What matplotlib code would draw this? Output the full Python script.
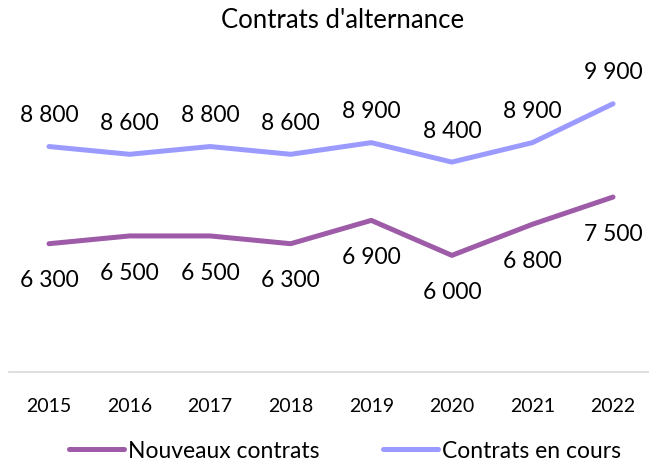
import matplotlib
matplotlib.use("Agg")
import matplotlib.pyplot as plt

plt.rcParams['font.family'] = ['Lato', 'DejaVu Sans']

years = ['2015', '2016', '2017', '2018', '2019', '2020', '2021', '2022']
nouveaux = [6300, 6500, 6500, 6300, 6900, 6000, 6800, 7500]
en_cours = [8800, 8600, 8800, 8600, 8900, 8400, 8900, 9900]

c_nouv = '#9E5BA8'
c_cours = '#9B9BFF'


def fmt(v):
    return f"{v:,}".replace(",", " ")


fig = plt.figure(figsize=(6.49, 4.64), dpi=100)
ax = fig.add_axes([8.7 / 649, 1 - 373 / 464, 644.6 / 649, (373 - 62) / 464])

x = list(range(len(years)))
ax.plot(x, nouveaux, color=c_nouv, lw=3.6, solid_capstyle='round', label='Nouveaux contrats')
ax.plot(x, en_cours, color=c_cours, lw=3.6, solid_capstyle='round', label='Contrats en cours')

for i in x:
    ax.annotate(fmt(en_cours[i]), (i, en_cours[i]), xytext=(0, 23), textcoords='offset points',
                ha='center', va='center', fontsize=16.5, color='#000000')
    ax.annotate(fmt(nouveaux[i]), (i, nouveaux[i]), xytext=(0, -26), textcoords='offset points',
                ha='center', va='center', fontsize=16.5, color='#000000')

ax.set_xlim(-0.5, 7.5)
ax.set_ylim(3000, 11000)
ax.set_xticks(x)
ax.set_xticklabels(years, fontsize=14)
ax.tick_params(axis='x', length=0, pad=18)
ax.set_yticks([])
for s in ['top', 'left', 'right']:
    ax.spines[s].set_visible(False)
ax.spines['bottom'].set_color('#D9D9D9')
ax.spines['bottom'].set_linewidth(1.2)

fig.text(343 / 649, 1 - 21 / 464, "Contrats d'alternance", ha='center', va='center', fontsize=18.5)

fig.legend(loc='center', bbox_to_anchor=(345 / 649, 1 - 452 / 464), ncol=2, frameon=False,
           fontsize=16.5, handlelength=2.4, handletextpad=0.2, columnspacing=2.75)

fig.savefig('out.png', dpi=100)
